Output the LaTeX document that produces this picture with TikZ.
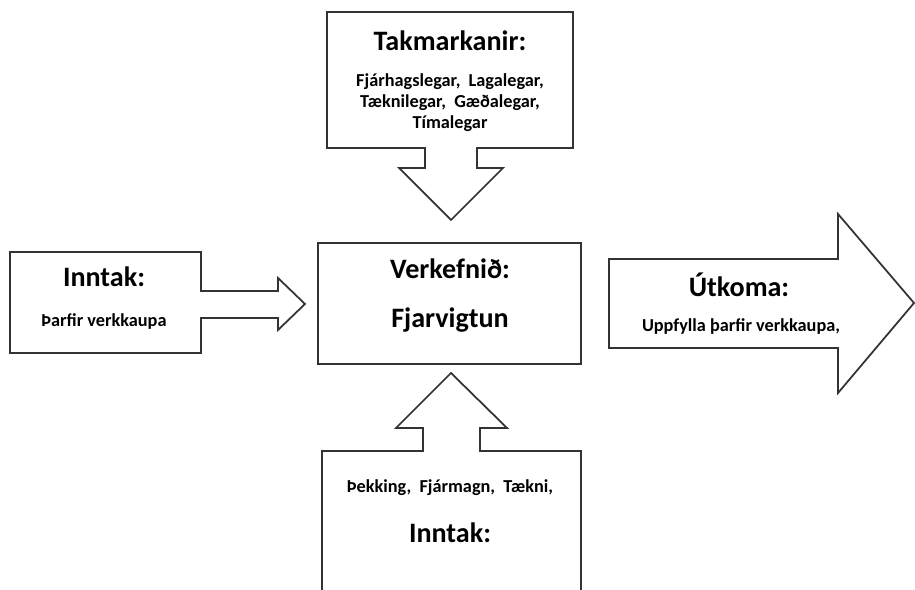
\documentclass[tikz,border=0pt]{standalone}
\usepackage{fontspec}
\setmainfont{Carlito}
\begin{document}
\begin{tikzpicture}[x=0.02cm, y=-0.02cm,
		outline/.style={draw=black!80, line width=1pt, fill=white, line join=miter},
		title/.style={font=\bfseries\fontsize{16}{19}\selectfont, align=center, inner sep=0pt},
		body/.style={font=\bfseries\fontsize{10.4}{12}\selectfont, align=center, inner sep=0pt} ]
		\useasboundingbox (0,0) rectangle (915,590);

		\draw[outline] (327,12) -- (573,12) -- (573,148) -- (477,148) -- (477,168) -- (503,168) -- (451,220) -- (399,168) -- (425,168) -- (425,148) -- (327,148) -- cycle;
		\draw[outline] (10,252) -- (201,252) -- (201,291) -- (278,291) -- (278,278) -- (305,304) -- (278,330) -- (278,318) -- (201,318) -- (201,353) -- (10,353) -- cycle;
		\draw[outline] (318,243) rectangle (581,364);
		\draw[outline] (609,259) -- (838,259) -- (838,214) -- (914,303) -- (838,393) -- (838,348) -- (609,348) -- cycle;
		\draw[outline] (322,591) -- (322,451) -- (423,451) -- (423,428) -- (396,428) -- (451,373) -- (507,428) -- (480,428) -- (480,451) -- (581,451) -- (581,591);

		\node[title] (limTitle) at (450,41) {Takmarkanir:};
		\node[body] (limText) at (450,103) {Fjárhagslegar,~ Lagalegar,\\Tæknilegar,~ Gæðalegar,\\Tímalegar};

		\node[title] (inTitle) at (104,277) {Inntak:};
		\node[body] (inText) at (104,322) {Þarfir verkkaupa};

		\node[title] (taskTitle) at (450,269) {Verkefnið:};
		\node[title] (taskName) at (450,320) {Fjarvigtun};

		\node[title] (outTitle) at (739,285) {Útkoma:};
		\node[body] (outText) at (741,327) {Uppfylla þarfir verkkaupa,};

		\node[body] (resText) at (450,488) {Þekking,~ Fjármagn,~ Tækni,};
		\node[title] (resTitle) at (450,533) {Inntak:};
	\end{tikzpicture}
\end{document}
